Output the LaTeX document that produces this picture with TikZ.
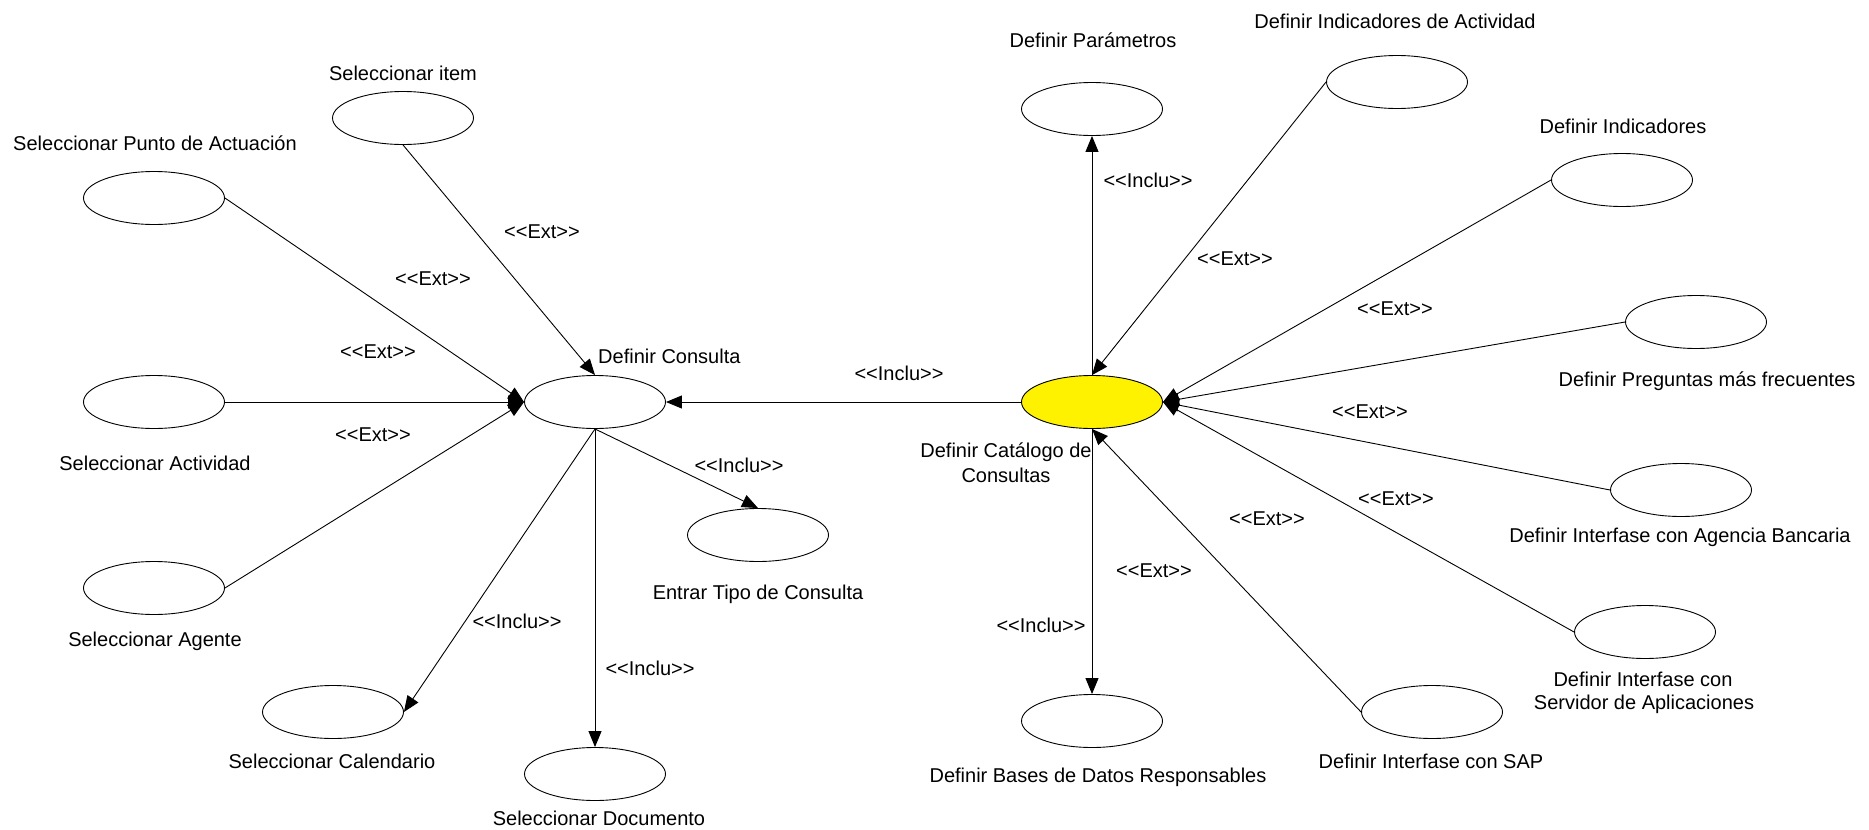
\documentclass[tikz,border=0pt]{standalone}
\usepackage{fontspec}
\setmainfont{Liberation Sans}
\usetikzlibrary{arrows.meta,shapes.geometric}
\newcommand{\stExt}{<\kern0pt<Ext>\kern0pt>}
\newcommand{\stInclu}{<\kern0pt<Inclu>\kern0pt>}
\begin{document}
\begin{tikzpicture}[x=1pt,y=-1pt,
  uc/.style={ellipse,draw,line width=0.9pt,minimum width=141pt,minimum height=53pt,inner sep=0pt,fill=white},
  lbl/.style={font=\fontsize{20}{25}\selectfont,inner sep=0pt,anchor=base},
  rel/.style={line width=0.9pt,-{Triangle[length=16pt,width=13pt]}}]
\useasboundingbox[fill=white] (0,0) rectangle (1869,830);
% use cases
\node[uc] (item) at (403,118) {};
\node[uc] (punto) at (154,198) {};
\node[uc] (activ) at (154,402) {};
\node[uc] (agente) at (154,588) {};
\node[uc] (calend) at (333,712) {};
\node[uc] (docu) at (595,774) {};
\node[uc] (entrar) at (758,535) {};
\node[uc] (consulta) at (595,402) {};
\node[uc,fill=yellow] (catal) at (1092,402) {};
\node[uc] (param) at (1092,109) {};
\node[uc] (indact) at (1397,82) {};
\node[uc] (indic) at (1622,180) {};
\node[uc] (pregun) at (1696,322) {};
\node[uc] (agencia) at (1681,490) {};
\node[uc] (servidor) at (1645,632) {};
\node[uc] (sap) at (1432,712) {};
\node[uc] (bases) at (1092,721) {};
% names
\node[lbl] (titem) at (403,80) {Seleccionar item};
\node[lbl] (tpunto) at (155,150) {Seleccionar Punto de Actuación};
\node[lbl] (tactiv) at (155,470) {Seleccionar Actividad};
\node[lbl] (tagente) at (155,646) {Seleccionar Agente};
\node[lbl] (tcalend) at (332,768) {Seleccionar Calendario};
\node[lbl] (tdocu) at (599,825) {Seleccionar Documento};
\node[lbl] (tentrar) at (758,599) {Entrar Tipo de Consulta};
\node[lbl,anchor=base west] (tconsulta) at (598,363) {Definir Consulta};
\node[lbl] (tcatal1) at (1006,457) {Definir Catálogo de};
\node[lbl] (tcatal2) at (1006,482) {Consultas};
\node[lbl] (tparam) at (1093,47) {Definir Parámetros};
\node[lbl] (tindact) at (1395,28) {Definir Indicadores de Actividad};
\node[lbl] (tindic) at (1623,133) {Definir Indicadores};
\node[lbl] (tpregun) at (1707,386) {Definir Preguntas más frecuentes};
\node[lbl] (tagencia) at (1680,542) {Definir Interfase con Agencia Bancaria};
\node[lbl] (tserv1) at (1643,686) {Definir Interfase con};
\node[lbl] (tserv2) at (1644,709) {Servidor de Aplicaciones};
\node[lbl] (tsap) at (1431,768) {Definir Interfase con SAP};
\node[lbl] (tbases) at (1098,782) {Definir Bases de Datos Responsables};
% relations
\draw[rel] (item.south) -- (consulta.north);
\draw[rel] (punto.east) -- (consulta.west);
\draw[rel] (activ.east) -- (consulta.west);
\draw[rel] (agente.east) -- (consulta.west);
\draw[rel] (consulta.south) -- (entrar.north);
\draw[rel] (consulta.south) -- (calend.east);
\draw[rel] (consulta.south) -- (docu.north);
\draw[rel] (catal.west) -- (consulta.east);
\draw[rel] (catal.north) -- (param.south);
\draw[rel] (indact.west) -- (catal.north);
\draw[rel] (indic.west) -- (catal.east);
\draw[rel] (pregun.west) -- (catal.east);
\draw[rel] (agencia.west) -- (catal.east);
\draw[rel] (servidor.west) -- (catal.east);
\draw[rel] (sap.west) -- (catal.south);
\draw[rel] (catal.south) -- (bases.north);
% stereotypes
\node[lbl] (s1) at (542,238) {\stExt};
\node[lbl] (s2) at (433,285) {\stExt};
\node[lbl] (s3) at (378,358) {\stExt};
\node[lbl] (s4) at (373,441) {\stExt};
\node[lbl] (s5) at (899,380) {\stInclu};
\node[lbl] (s6) at (739,472) {\stInclu};
\node[lbl] (s7) at (517,628) {\stInclu};
\node[lbl] (s8) at (650,675) {\stInclu};
\node[lbl] (s9) at (1148,187) {\stInclu};
\node[lbl] (s10) at (1235,265) {\stExt};
\node[lbl] (s11) at (1395,315) {\stExt};
\node[lbl] (s12) at (1370,418) {\stExt};
\node[lbl] (s13) at (1396,505) {\stExt};
\node[lbl] (s14) at (1267,525) {\stExt};
\node[lbl] (s15) at (1154,577) {\stExt};
\node[lbl] (s16) at (1041,632) {\stInclu};
\end{tikzpicture}
\end{document}
